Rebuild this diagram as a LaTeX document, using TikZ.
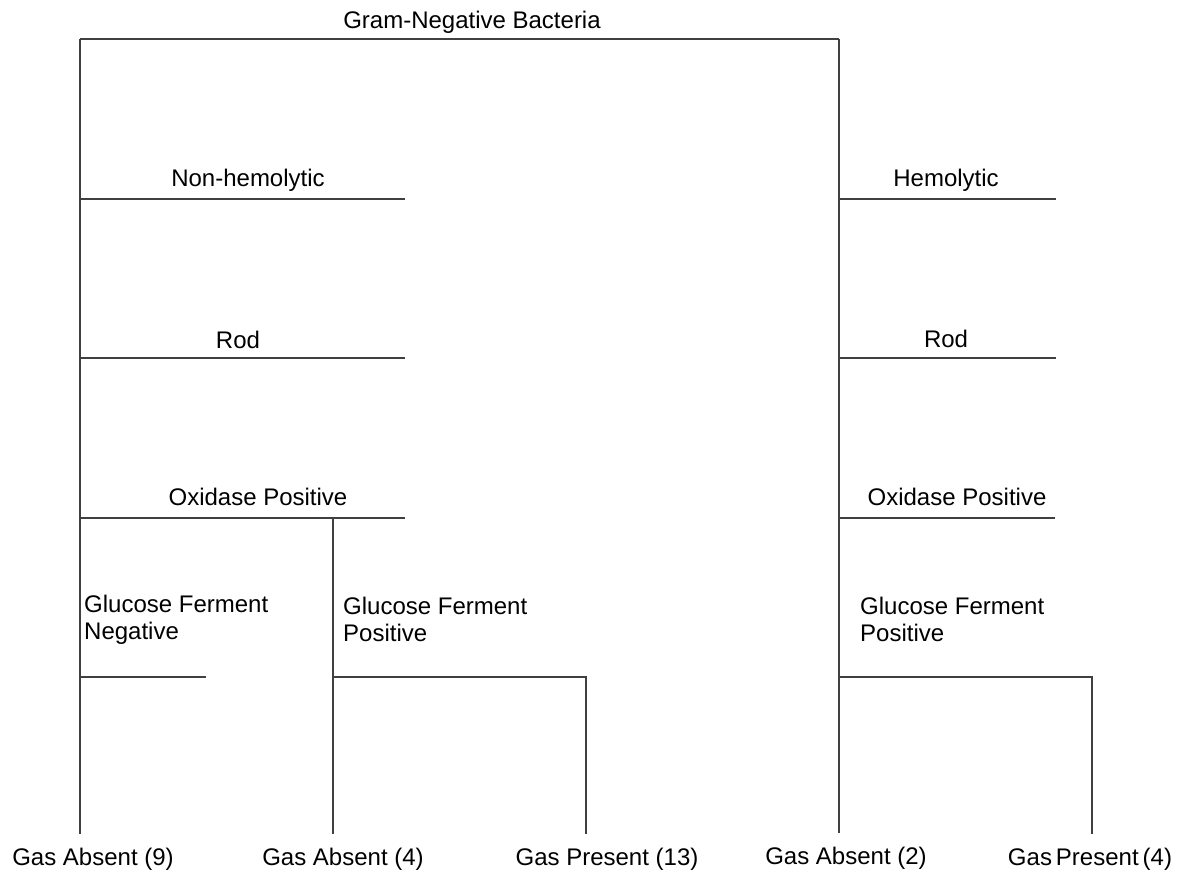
\documentclass[tikz,border=0pt]{standalone}
\usepackage{fontspec}
\setmainfont{Liberation Sans}
\begin{document}
\begin{tikzpicture}[x=1pt,y=-1pt,
  branch/.style={draw=black!75, line width=1.4pt},
  lbl/.style={font=\fontsize{24}{27}\selectfont, inner sep=0pt, anchor=base},
  mlbl/.style={lbl, align=left, anchor=base west},
  leaf/.style={lbl, inner ysep=13pt}]
\useasboundingbox (0,0) rectangle (1177,876);
% labels
\node[lbl] (root) at (472,28) {Gram-Negative Bacteria};
\node[lbl] (nonhem) at (248,186) {Non-hemolytic};
\node[lbl] (rodl) at (238,348) {Rod};
\node[lbl] (oxl) at (258,505) {Oxidase Positive};
\node[mlbl] (gfn) at (84,639) {Glucose Ferment\\Negative};
\node[mlbl] (gfpm) at (343,641) {Glucose Ferment\\Positive};
\node[lbl] (hem) at (946,186) {Hemolytic};
\node[lbl] (rodr) at (946,347) {Rod};
\node[lbl] (oxr) at (957,505) {Oxidase Positive};
\node[mlbl] (gfpr) at (860,641) {Glucose Ferment\\Positive};
\node[leaf] (g9) at (93,865) {Gas Absent (9)};
\node[leaf] (g4) at (343,865) {Gas Absent (4)};
\node[leaf] (g13) at (607,865) {Gas Present (13)};
\node[leaf] (g2) at (846,864) {Gas Absent (2)};
\node[leaf] (g4b) at (1090,865) {Gas\,Present\,(4)};
% junctions
\coordinate (tl) at (80,39);
\coordinate (tr) at (839,39);
\coordinate (nhE) at (405,199);
\coordinate (rodE) at (405,358);
\coordinate (oxE) at (405,518);
\coordinate (oxB) at (333,518);
\coordinate (gnE) at (206,677);
\coordinate (gpB) at (333,677);
\coordinate (gpE) at (586,677);
\coordinate (hE) at (1056,199);
\coordinate (rodRE) at (1056,358);
\coordinate (oxRE) at (1055,518);
\coordinate (gpRE) at (1092,677);
% connectors
\draw[branch] (tl) -- (tr);
\draw[branch] (tl) -- (tl |- g9.north);
\draw[branch] (tr) -- (tr |- g2.north);
\draw[branch] (tl |- nhE) -- (nhE);
\draw[branch] (tl |- rodE) -- (rodE);
\draw[branch] (tl |- oxE) -- (oxE);
\draw[branch] (tl |- gnE) -- (gnE);
\draw[branch] (oxB) -- (oxB |- g4.north);
\draw[branch] (gpB) -- (gpE) -- (gpE |- g13.north);
\draw[branch] (tr |- hE) -- (hE);
\draw[branch] (tr |- rodRE) -- (rodRE);
\draw[branch] (tr |- oxRE) -- (oxRE);
\draw[branch] (tr |- gpRE) -- (gpRE) -- (gpRE |- g4b.north);
\end{tikzpicture}
\end{document}
